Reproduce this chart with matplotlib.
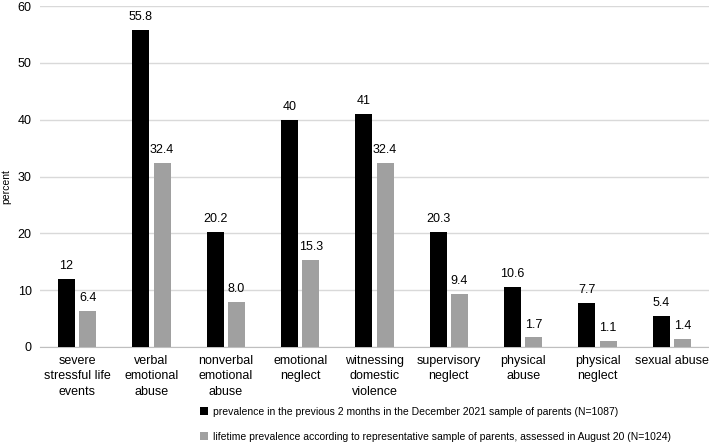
import matplotlib.pyplot as plt
import numpy as np

# ..data..
categories = ['severe\nstressful life\nevents', 'verbal\nemotional\nabuse',
              'nonverbal\nemotional\nabuse', 'emotional\nneglect',
              'witnessing\ndomestic\nviolence', 'supervisory\nneglect',
              'physical\nabuse', 'physical\nneglect', 'sexual abuse']
recent = [12, 55.8, 20.2, 40, 41, 20.3, 10.6, 7.7, 5.4]
recent_labels = ['12', '55.8', '20.2', '40', '41', '20.3', '10.6', '7.7', '5.4']
lifetime = [6.4, 32.4, 8.0, 15.3, 32.4, 9.4, 1.7, 1.1, 1.4]
lifetime_labels = ['6.4', '32.4', '8.0', '15.3', '32.4', '9.4', '1.7', '1.1', '1.4']
series_names = ['prevalence in the previous 2 months in the December 2021 sample of parents (N=1087)',
                'lifetime prevalence according to representative sample of parents, assessed in August 20 (N=1024)']

plt.rcParams['font.family'] = ['Liberation Sans', 'DejaVu Sans']
plt.rcParams['font.size'] = 9

fig = plt.figure(figsize=(7.09, 4.46), dpi=100)
ax = fig.add_axes([0.0564, 0.222, 0.9436, 0.7645])

x = np.arange(len(categories))
w = 0.23
gap = 0.055
b1 = ax.bar(x - (w + gap) / 2, recent, w, color='#000000', label=series_names[0], zorder=3)
b2 = ax.bar(x + (w + gap) / 2, lifetime, w, color='#a0a0a0', label=series_names[1], zorder=3)

# ..value labels above each bar..
for bars, labs in ((b1, recent_labels), (b2, lifetime_labels)):
    for r, t in zip(bars, labs):
        ax.text(r.get_x() + r.get_width() / 2, r.get_height() + 1.2, t,
                ha='center', va='bottom', fontsize=9, color='#000000')

ax.set_xlim(-0.5, len(categories) - 0.5)
ax.set_ylim(0, 60)
ax.set_yticks(range(0, 61, 10))
ax.set_xticks(x)
ax.set_xticklabels(categories, linespacing=1.35)
ax.yaxis.grid(True, color='#d9d9d9', linewidth=1)
ax.set_axisbelow(True)
for s in ['top', 'right', 'left']:
    ax.spines[s].set_visible(False)
ax.spines['bottom'].set_color('#bfbfbf')
ax.tick_params(axis='both', length=0, labelsize=9)
ax.tick_params(axis='x', pad=6)
ax.tick_params(axis='y', pad=6)
ax.set_ylabel('percent', fontsize=7.5)
ax.yaxis.set_label_coords(-0.043, 0.47)

fig.legend(handles=[b1, b2], loc='upper left', bbox_to_anchor=(0.282, 0.0874),
           frameon=False, fontsize=7.5, handlelength=0.8, handleheight=0.8,
           handletextpad=0.5, labelspacing=1.4, borderaxespad=0, borderpad=0)

fig.savefig('out.png', dpi=100)
